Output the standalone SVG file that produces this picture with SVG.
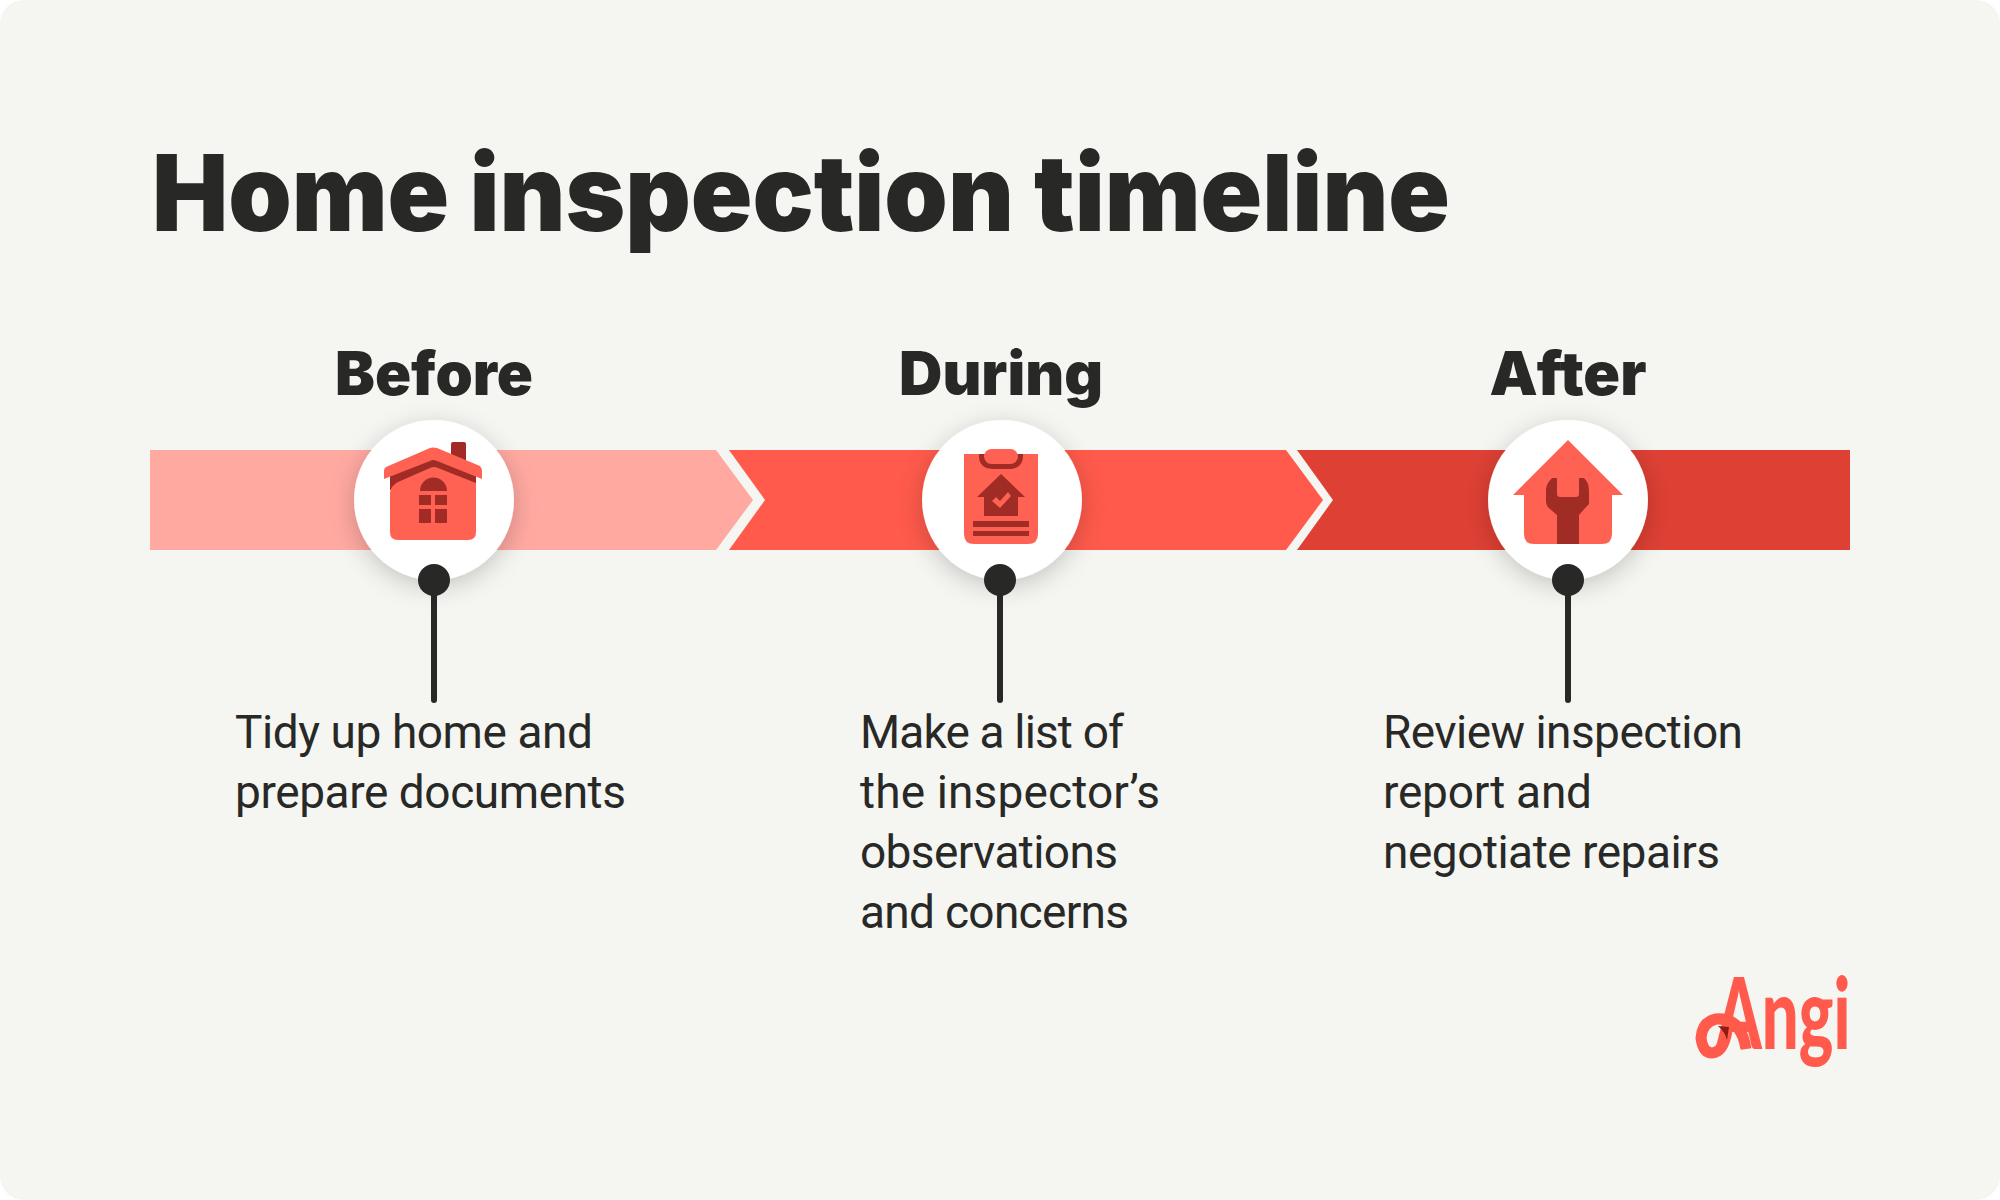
<svg xmlns="http://www.w3.org/2000/svg" width="2000" height="1200" viewBox="0 0 2000 1200">
<defs>
<style>
.h{font-family:"Inter","Liberation Sans",sans-serif;font-weight:900;fill:#282927}
.b{font-family:"Roboto","Liberation Sans",sans-serif;font-size:46px;fill:#282927}
.c{fill:#fff;filter:url(#s)}
.i{fill:#ff6153}.d{fill:#a02c25}
.l{fill:#ff5a4b}
</style>
<filter id="s" x="-40%" y="-40%" width="180%" height="180%"><feDropShadow dx="0" dy="6" stdDeviation="12" flood-color="#000" flood-opacity=".2"/></filter>
</defs>
<rect width="2000" height="1200" rx="24" fill="#f5f5f1"/>
<text id="title" class="h" x="152" y="231" font-size="106" textLength="1298" lengthAdjust="spacingAndGlyphs">Home inspection timeline</text>
<g id="connectors">
<path d="M434 580V700M1000 580V700M1568 580V700" stroke="#282927" stroke-width="6" stroke-linecap="round" fill="none"/>
</g>
<g id="before">
<polygon points="150,450 716,450 753,500 716,550 150,550" fill="#ffa9a1"/>
<circle class="c" cx="434" cy="500" r="80"/>
<text class="h" x="434" y="395" font-size="60" text-anchor="middle" textLength="198" lengthAdjust="spacingAndGlyphs">Before</text>
<rect class="d" x="451" y="442" width="15" height="24" rx="2"/>
<path class="d" d="M390 474L434 456L476 474V490H390Z"/>
<path class="i" d="M390 492Q391 486 398 482L430 468Q434 466 438 468L476 483V532Q476 540 468 540H398Q390 540 390 532Z"/>
<path class="i" d="M437 448L480 466Q482 468 482 472V479L437 461Q433 459 430 461L384 479V471Q384 468 386 467L430 448Q433 447 437 448Z"/>
<path class="d" d="M420 491A13.500 13.500 0 0 1 447 491Z"/>
<path class="d" d="M419 495H431V505H419ZM435 495H447V505H435ZM419 509H431V523H419ZM435 509H447V523H435Z"/>
<circle cx="434" cy="580" r="16" fill="#282927"/>
<text class="b" lengthAdjust="spacing"><tspan x="235" y="748" textLength="358">Tidy up home and</tspan><tspan x="235" y="808" textLength="391">prepare documents</tspan></text>
</g>
<g id="during">
<polygon points="729,450 1286,450 1323,500 1286,550 729,550 765,500" fill="#ff5a4b"/>
<circle class="c" cx="1002" cy="500" r="80"/>
<text class="h" x="1001" y="395" font-size="60" text-anchor="middle" textLength="204" lengthAdjust="spacingAndGlyphs">During</text>
<path class="i" d="M964 454H1038V534Q1038 544 1028 544H974Q964 544 964 534Z"/>
<path class="d" d="M979 454H1023V456Q1023 469 1008 469H994Q979 469 979 456Z"/>
<rect class="i" x="984" y="449" width="34" height="15" rx="7.500"/>
<path class="d" d="M1001 474L1025 497H1018V516H984V497H977Z"/>
<path class="i" d="M992 501L996 497L1000 501L1008 492L1011 496L1000 508Z"/>
<path class="d" d="M973 521H1029V527H973ZM973 531H1029V536H973Z"/>
<circle cx="1000" cy="580" r="16" fill="#282927"/>
<text class="b"><tspan x="860" y="748" textLength="264">Make a list of</tspan><tspan x="860" y="808" textLength="300">the inspector’s</tspan><tspan x="860" y="868" textLength="258">observations</tspan><tspan x="860" y="928" textLength="269">and concerns</tspan></text>
</g>
<g id="after">
<polygon points="1297,450 1850,450 1850,550 1297,550 1333,500" fill="#de4034"/>
<circle class="c" cx="1568" cy="500" r="80"/>
<text class="h" x="1568" y="395" font-size="60" text-anchor="middle" textLength="157" lengthAdjust="spacingAndGlyphs">After</text>
<path class="i" d="M1568 440L1623 495H1612V534Q1612 544 1602 544H1534Q1524 544 1524 534V495H1513Z"/>
<path class="d" d="M1557 478V494Q1557 497 1560 497H1576Q1579 497 1579 494V478H1584Q1589 482 1589 492V504L1586 507L1579 515V544H1557V515L1550 509Q1546 506 1546 501V490Q1546 484 1552 478Z"/>
<circle cx="1568" cy="580" r="16" fill="#282927"/>
<text class="b"><tspan x="1383" y="748" textLength="360">Review inspection</tspan><tspan x="1383" y="808" textLength="209">report and</tspan><tspan x="1383" y="868" textLength="337">negotiate repairs</tspan></text>
</g>
<g id="logo">
<text class="l" transform="translate(1716 1049) scale(.6 1)" font-family="Lato" font-weight="900" font-size="100" textLength="224" lengthAdjust="spacingAndGlyphs">Angi</text>
<path d="M1746 1049Q1741 1017 1716 1019Q1702 1022 1701 1038Q1703 1053 1712 1053Q1724 1052 1727 1030" fill="none" stroke="#ff5a4b" stroke-width="11"/>
<path d="M1718 1026L1729 1027L1727 1040Q1725 1032 1718 1026Z" fill="#8f1c12"/>
</g>
</svg>
